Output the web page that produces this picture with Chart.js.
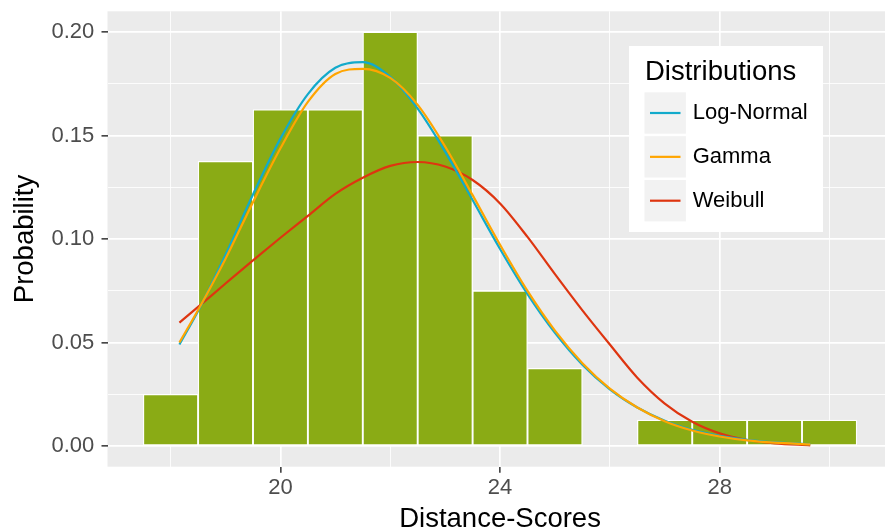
<!DOCTYPE html>
<html>
<head>
<meta charset="utf-8">
<script src="https://cdn.jsdelivr.net/npm/chart.js@4.4.1/dist/chart.umd.min.js"></script>
<style>
  html, body { margin: 0; padding: 0; background: #ffffff; overflow: hidden; }
  #wrap { width: 885px; height: 532px; overflow: hidden; }
  canvas { display: block; }
</style>
</head>
<body>
<div id="wrap"><canvas id="chart" width="893" height="532"></canvas></div>
<script>
// Histogram of distance scores (bin width 1), shown as proportions
const binCenters = [18, 19, 20, 21, 22, 23, 24, 25, 26, 27, 28, 29, 30];
const binProb = [0.0250, 0.1375, 0.1625, 0.1625, 0.2000, 0.1500, 0.0750, 0.0375, 0, 0.0125, 0.0125, 0.0125, 0.0125];

// Fitted density curves, sampled over the observed range
const curveX = [18.16, 18.5, 19, 19.5, 20, 20.5, 21, 21.5, 22, 22.5, 23, 23.5, 24, 24.5, 25, 25.5, 26, 26.5, 27, 27.5, 28, 28.5, 29, 29.65];
const logNormalY = [0.0490, 0.0652, 0.0924, 0.1215, 0.1485, 0.1700, 0.1827, 0.1854, 0.1783, 0.1630, 0.1422, 0.1188, 0.0952, 0.0734, 0.0547, 0.0393, 0.0274, 0.0186, 0.0122, 0.0078, 0.0049, 0.0030, 0.0018, 0.0009];
const gammaY = [0.0500, 0.0657, 0.0905, 0.1178, 0.1438, 0.1662, 0.1797, 0.1822, 0.1778, 0.1648, 0.1447, 0.1212, 0.0972, 0.0749, 0.0557, 0.0400, 0.0277, 0.0186, 0.0120, 0.0075, 0.0046, 0.0027, 0.0016, 0.0008];
const weibullY = [0.0596, 0.0672, 0.0785, 0.0897, 0.1006, 0.1112, 0.1218, 0.1296, 0.1353, 0.1372, 0.1350, 0.1285, 0.1172, 0.1010, 0.0830, 0.0655, 0.0490, 0.0330, 0.0205, 0.0117, 0.0061, 0.0029, 0.0013, 0.0003];

const seriesNames = ['Log-Normal', 'Gamma', 'Weibull'];
const legendTitle = 'Distributions';

// Axis breaks
const xLabelTicks = [20, 24, 28];
const xMinorTicks = [18, 22, 26, 30];
const yLabelTicks = [0, 0.05, 0.10, 0.15, 0.20];
const yMinorTicks = [0.025, 0.075, 0.125, 0.175];

const FONT = "'Liberation Sans', Arial, Helvetica, sans-serif";
const COLORS = { 'Log-Normal': '#12AACB', 'Gamma': '#FFA500', 'Weibull': '#DE3510' };

const near = (v, list) => list.some(t => Math.abs(t - v) < 1e-6);
const points = (xs, ys) => xs.map((x, i) => ({ x, y: ys[i] }));

// grey panel behind the grid
const panelBackground = {
  id: 'panelBackground',
  beforeDraw(chart) {
    const { ctx, chartArea: a } = chart;
    ctx.save();
    ctx.fillStyle = '#EBEBEB';
    ctx.fillRect(a.left, a.top, a.right - a.left, a.bottom - a.top);
    ctx.restore();
  }
};

// boxed legend inside the panel, with grey key squares
const distributionsLegend = {
  id: 'distributionsLegend',
  afterDraw(chart) {
    const { ctx } = chart;
    const box = { x: 629, y: 46, w: 194, h: 186 };
    ctx.save();
    ctx.fillStyle = '#FFFFFF';
    ctx.fillRect(box.x, box.y, box.w, box.h);
    ctx.fillStyle = '#000000';
    ctx.font = `27.5px ${FONT}`;
    ctx.textBaseline = 'alphabetic';
    ctx.textAlign = 'left';
    ctx.fillText(legendTitle, 645, 80);
    const lines = chart.data.datasets.filter(d => d.type === 'line');
    seriesNames.forEach((name, i) => {
      const ds = lines.find(d => d.label === name);
      const top = 92.3 + i * 43.85;
      ctx.fillStyle = '#F2F2F2';
      ctx.fillRect(644.5, top, 41.4, 41.4);
      ctx.strokeStyle = ds.borderColor;
      ctx.lineWidth = 2.2;
      ctx.beginPath();
      ctx.moveTo(650, top + 20.7);
      ctx.lineTo(680.5, top + 20.7);
      ctx.stroke();
      ctx.fillStyle = '#000000';
      ctx.font = `22px ${FONT}`;
      ctx.fillText(name, 692.7, top + 26.7);
    });
    ctx.restore();
  }
};

const curve = (name, ys, order) => ({
  type: 'line',
  label: name,
  data: points(curveX, ys),
  borderColor: COLORS[name],
  borderWidth: 2.2,
  pointRadius: 0,
  cubicInterpolationMode: 'monotone',
  fill: false,
  order
});

new Chart(document.getElementById('chart'), {
  type: 'bar',
  data: {
    datasets: [
      curve('Log-Normal', logNormalY, 2),
      curve('Gamma', gammaY, 1),
      curve('Weibull', weibullY, 3),
      {
        type: 'bar',
        label: 'Distance-Scores',
        data: points(binCenters, binProb),
        backgroundColor: '#8AAB15',
        borderColor: '#FFFFFF',
        borderWidth: 1.3,
        borderSkipped: false,
        barPercentage: 1,
        categoryPercentage: 1,
        order: 10
      }
    ]
  },
  options: {
    responsive: false,
    animation: false,
    devicePixelRatio: 1,
    layout: { padding: { top: 11.3, right: 0.4, bottom: 0, left: 0 } },
    plugins: { legend: { display: false }, tooltip: { enabled: false } },
    scales: {
      x: {
        type: 'linear',
        min: 16.85,
        max: 31.15,
        offset: false,
        border: { display: false },
        grid: {
          offset: false,
          color: '#FFFFFF',
          lineWidth: c => (c.tick && near(c.tick.value, xLabelTicks)) ? 1.7 : 0.85,
          tickColor: c => (c.tick && near(c.tick.value, xLabelTicks)) ? '#333333' : 'rgba(0,0,0,0)',
          tickLength: 6,
          tickWidth: 1.5
        },
        afterBuildTicks: s => {
          s.ticks = [...xMinorTicks, ...xLabelTicks].sort((a, b) => a - b).map(v => ({ value: v }));
        },
        afterFit: s => {
          s.height = 65.3;
          s.paddingLeft = 0;
          s.paddingRight = 0;
        },
        ticks: {
          autoSkip: false,
          maxRotation: 0,
          padding: 2.5,
          color: '#4D4D4D',
          font: { family: FONT, size: 22 },
          callback: v => near(v, xLabelTicks) ? String(v) : ''
        },
        title: {
          display: true,
          text: 'Distance-Scores',
          color: '#000000',
          font: { family: FONT, size: 27.5, lineHeight: 0.88 },
          padding: { top: 0, bottom: 0 }
        }
      },
      y: {
        type: 'linear',
        min: -0.01,
        max: 0.21,
        border: { display: false },
        grid: {
          color: '#FFFFFF',
          lineWidth: c => (c.tick && near(c.tick.value, yLabelTicks)) ? 1.7 : 0.85,
          tickColor: c => (c.tick && near(c.tick.value, yLabelTicks)) ? '#333333' : 'rgba(0,0,0,0)',
          tickLength: 6,
          tickWidth: 1.5
        },
        afterBuildTicks: s => {
          s.ticks = [...yMinorTicks, ...yLabelTicks].sort((a, b) => a - b).map(v => ({ value: v }));
        },
        afterFit: s => {
          s.width = 107.5;
          s.paddingTop = 0;
          s.paddingBottom = 0;
        },
        ticks: {
          autoSkip: false,
          padding: 7.2,
          color: '#4D4D4D',
          font: { family: FONT, size: 22 },
          callback: v => near(v, yLabelTicks) ? v.toFixed(2) : ''
        },
        title: {
          display: true,
          text: 'Probability',
          color: '#000000',
          font: { family: FONT, size: 27.5, lineHeight: 0.88 },
          padding: { top: 13, bottom: 0 }
        }
      }
    }
  },
  plugins: [panelBackground, distributionsLegend]
});
</script>
</body>
</html>
